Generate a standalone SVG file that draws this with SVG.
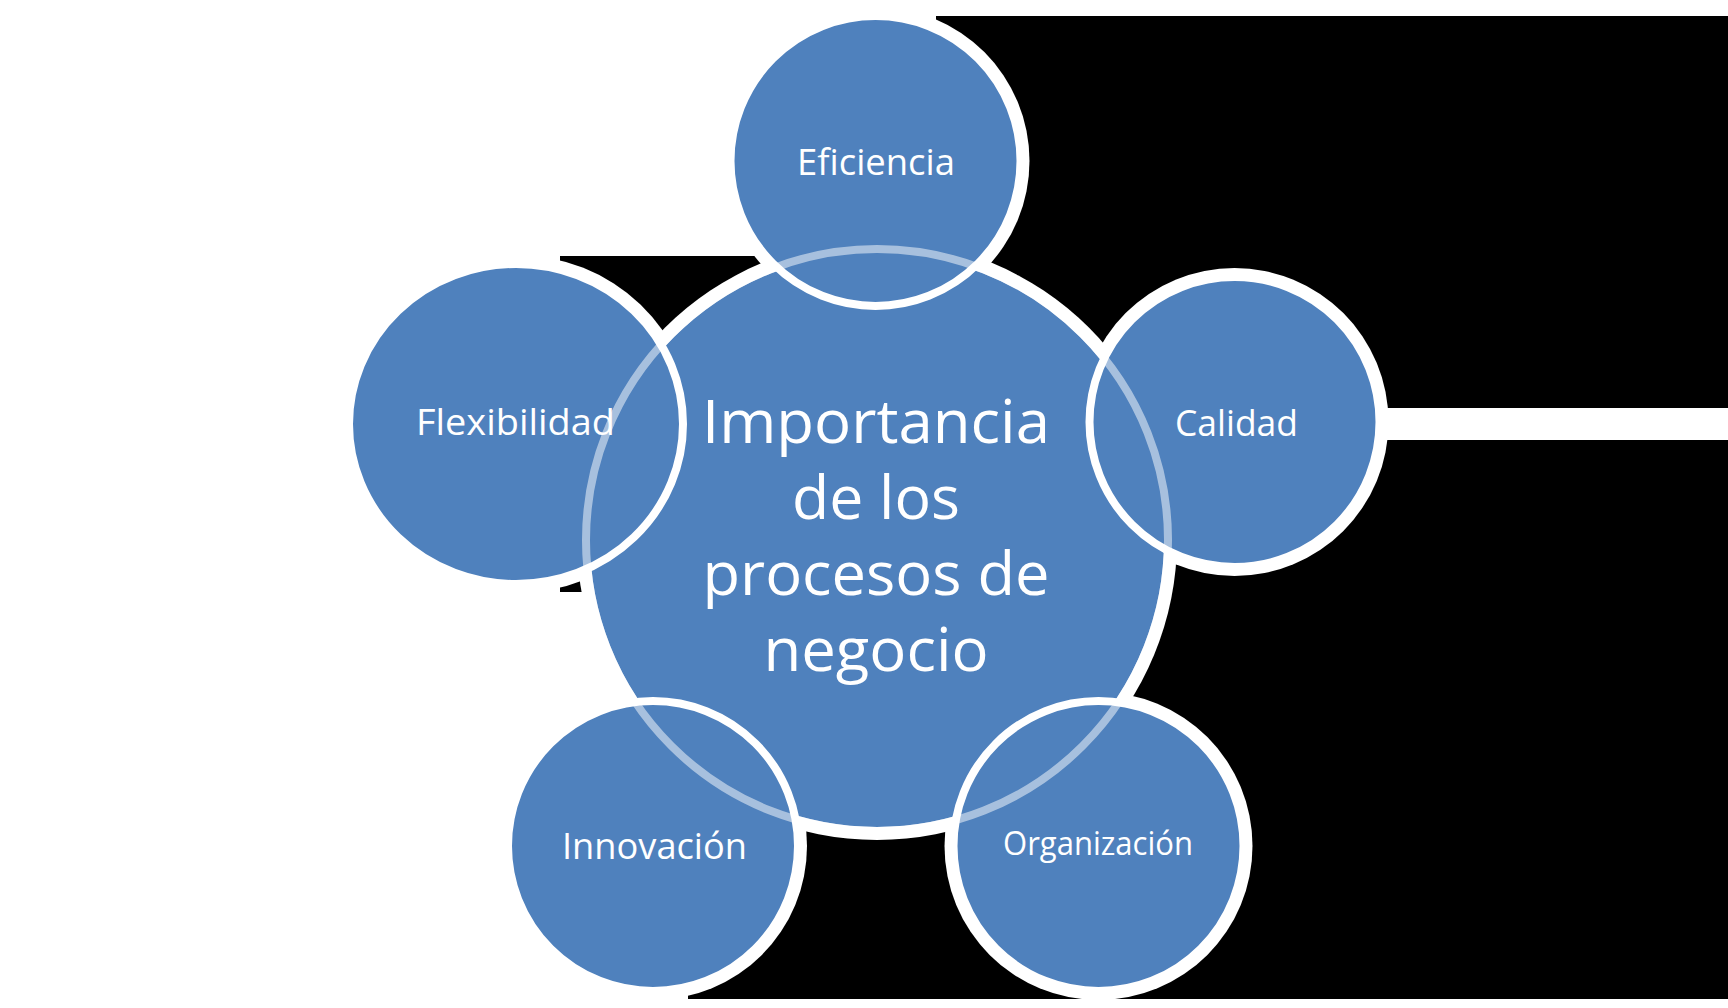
<svg xmlns="http://www.w3.org/2000/svg" width="1728" height="1008" viewBox="0 0 1728 1008">
  <style>
    .node { fill: #4f81bd; stroke: #ffffff; stroke-width: 8; }
    .halo { fill: #ffffff; }
    .lbl { font-family: "Open Sans", "Noto Sans", "DejaVu Sans", sans-serif; fill: #ffffff; text-anchor: middle; font-size: 37px; }
    .big { font-size: 61px; }
    .ring { fill: none; stroke: #ffffff; stroke-opacity: 0.5; stroke-width: 8; }
  </style>
  <g id="background">
    <rect x="0" y="0" width="1728" height="1008" fill="#ffffff"/>
    <path d="M936,16 H1728 V408 H1383 V440 H1728 V999 H688 V592 H560 V256 H936 Z" fill="#000000"/>
    <circle class="halo" cx="877" cy="540" r="300"/>
    <circle class="halo" cx="875.5" cy="161" r="154"/>
    <circle class="halo" cx="1234.5" cy="422" r="154"/>
    <circle class="halo" cx="1098.5" cy="846" r="154"/>
    <circle class="halo" cx="653" cy="846" r="154"/>
    <ellipse class="halo" cx="516" cy="424" rx="176" ry="169"/>
  </g>
  <g id="connectors"></g>
  <g id="center">
    <circle class="node" cx="877" cy="540" r="291"/>
    <text class="lbl big" x="876" y="443" textLength="348" lengthAdjust="spacingAndGlyphs">Importancia</text>
    <text class="lbl big" x="876" y="519" textLength="168" lengthAdjust="spacingAndGlyphs">de los</text>
    <text class="lbl big" x="876" y="595" textLength="347" lengthAdjust="spacingAndGlyphs">procesos de</text>
    <text class="lbl big" x="876" y="671" textLength="225" lengthAdjust="spacingAndGlyphs">negocio</text>
  </g>
  <g id="eficiencia">
    <circle class="node" cx="875.5" cy="161" r="145"/>
    <text class="lbl" x="876" y="175" textLength="158" lengthAdjust="spacingAndGlyphs">Eficiencia</text>
  </g>
  <g id="calidad">
    <circle class="node" cx="1234.5" cy="422" r="145"/>
    <text class="lbl" x="1236.5" y="436" textLength="123" lengthAdjust="spacingAndGlyphs">Calidad</text>
  </g>
  <g id="organizacion">
    <circle class="node" cx="1098.5" cy="846" r="145"/>
    <text class="lbl" x="1098" y="855" style="font-size:32px" textLength="190" lengthAdjust="spacingAndGlyphs">Organización</text>
  </g>
  <g id="innovacion">
    <circle class="node" cx="653" cy="846" r="145"/>
    <text class="lbl" x="654.5" y="859" textLength="185" lengthAdjust="spacingAndGlyphs">Innovación</text>
  </g>
  <g id="flexibilidad">
    <ellipse class="node" cx="516" cy="424" rx="167" ry="160"/>
    <text class="lbl" x="515.5" y="435" textLength="199" lengthAdjust="spacingAndGlyphs">Flexibilidad</text>
  </g>
  <g id="ring">
    <circle class="ring" cx="877" cy="540" r="291"/>
  </g>
</svg>
